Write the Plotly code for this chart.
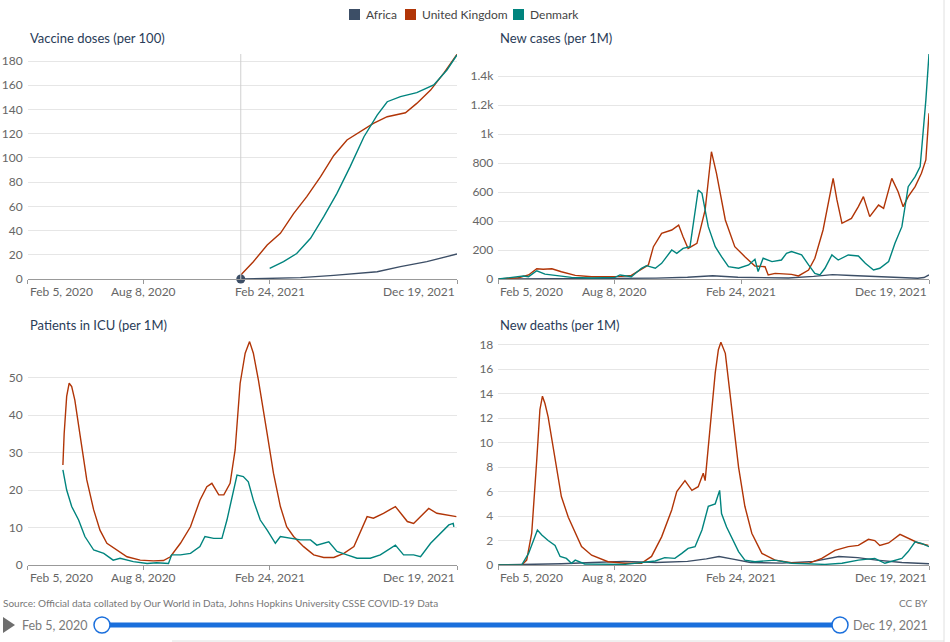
import pandas as pd
import plotly.graph_objects as go

W, H = 950, 642
START = pd.Timestamp("2020-02-05")
END = pd.Timestamp("2021-12-19")

COLORS = {"Africa": "#3c4e66", "United Kingdom": "#b13507", "Denmark": "#00847e"}
FONT = "Lato"

tick_dates = ["2020-02-05", "2020-08-08", "2021-02-24", "2021-12-19"]
tick_labels = ["Feb 5, 2020", "Aug 8, 2020", "Feb 24, 2021", "Dec 19, 2021"]

# ----------------- data (days since Feb 5, 2020) -----------------
# Vaccine doses (per 100)
vac_uk_day = [339, 359, 381, 402, 423, 444, 466, 487, 508, 529, 550, 572, 601, 619, 641, 662, 683]
vac_uk = [3.3, 14.3, 28, 37.7, 54, 68, 84.5, 102, 114.8, 121.7, 128.5, 134, 137.3, 145, 156, 170, 185.5]
vac_dk_day = [385, 407, 428, 450, 471, 492, 513, 535, 556, 572, 593, 619, 646, 667, 683]
vac_dk = [8.8, 14.3, 21, 33.6, 51.5, 70.7, 92.8, 117.5, 135.4, 146.4, 150.6, 153.9, 160.2, 172.6, 185]
vac_af_day = [339, 380, 434, 487, 556, 593, 635, 683]
vac_af = [0, 0.4, 1.1, 3, 6, 10.2, 14.3, 20.6]

# New cases (per 1M)
case_uk_day = [0, 32, 48, 61, 71, 85, 100, 122, 148, 174, 196, 211, 227, 238, 246, 259, 275, 286,
               293, 301, 315, 328, 338, 346, 360, 375, 391, 407, 423, 428, 439, 465, 476, 492,
               502, 515, 531, 537, 545, 560, 571, 579, 589, 603, 611, 624, 634, 642, 650, 661,
               671, 678, 683]
case_uk = [0, 9, 28, 71, 67, 71, 50, 25, 16, 16, 18, 25, 67, 97, 223, 315, 338, 372,
           292, 211, 246, 476, 878, 729, 407, 223, 154, 90, 85, 28, 39, 32, 21, 62,
           143, 338, 694, 545, 384, 418, 499, 568, 430, 510, 487, 694, 602, 499, 568, 637,
           729, 821, 1143]
case_dk_day = [0, 32, 40, 48, 61, 74, 95, 116, 148, 185, 193, 211, 227, 235, 249, 259, 275, 283,
               293, 304, 317, 323, 333, 344, 354, 365, 381, 397, 407, 412, 420, 434, 449, 457,
               465, 481, 492, 502, 510, 518, 529, 539, 555, 571, 582, 595, 605, 619, 629, 640,
               650, 661, 669, 674, 678, 683]
case_dk = [0, 16, 21, 16, 57, 34, 25, 11, 7, 11, 28, 16, 74, 92, 74, 108, 200, 177,
           211, 223, 614, 591, 361, 223, 154, 85, 74, 97, 136, 51, 143, 120, 131, 177,
           189, 166, 97, 39, 28, 74, 166, 131, 166, 159, 108, 62, 74, 120, 246, 361,
           637, 706, 775, 1005, 1234, 1552]
case_af_day = [0, 60, 150, 200, 250, 300, 340, 380, 420, 460, 500, 530, 560, 600, 640, 665, 675, 683]
case_af = [0, 1, 3, 5, 6, 12, 22, 12, 8, 7, 18, 30, 24, 18, 8, 5, 10, 28]

# Patients in ICU (per 1M)
icu_uk_day = [56, 58, 62, 66, 70, 75, 83, 94, 105, 115, 126, 142, 158, 179, 200, 216, 227, 243,
              259, 274, 285, 293, 304, 312, 322, 330, 338, 346, 353, 359, 367, 381, 391, 402,
              412, 423, 439, 455, 471, 487, 503, 519, 529, 540, 550, 566, 585, 593, 604, 614,
              625, 638, 651, 667, 682]
icu_uk = [26.7, 35, 45, 48.5, 47.6, 44, 35, 22.7, 14.7, 9.3, 5.8, 4, 2.2, 1.3, 1.1, 1.2, 2.2, 5.8,
          10.2, 17.3, 20.9, 21.8, 18.7, 18.7, 21.8, 30.7, 48.5, 56.5, 59.6, 56.5, 49.4, 35, 24.5, 15.6,
          10.2, 7.6, 4.9, 2.7, 2, 2, 3.1, 4.9, 8.5, 12.9, 12.5, 13.8, 15.6, 13.8, 11.6, 11.1,
          12.9, 15.1, 13.8, 13.3, 12.9]
icu_dk_day = [56, 62, 70, 81, 91, 105, 121, 136, 147, 168, 190, 205, 224, 229, 243, 259, 274, 282,
              296, 309, 317, 328, 333, 343, 351, 359, 370, 381, 394, 402, 418, 434, 450, 460,
              479, 492, 508, 524, 545, 561, 585, 598, 614, 625, 641, 657, 670, 677, 678]
icu_dk = [25.4, 20, 15.6, 12, 7.6, 4, 3.1, 1.3, 1.8, 0.9, 0.4, 0.6, 0.4, 2.7, 2.7, 3.1, 4.9, 7.6,
          7.1, 7.1, 12, 20.9, 24, 23.6, 22.2, 17.3, 12, 9.3, 5.8, 7.6, 7.1, 6.7, 6.7, 5.3,
          6.2, 3.6, 2.7, 1.8, 1.8, 2.7, 5.3, 2.7, 2.7, 2.2, 5.8, 8.5, 10.7, 11.1, 10.2]

# New deaths (per 1M)
death_uk_day = [0, 37, 45, 53, 61, 66, 70, 74, 79, 90, 100, 111, 122, 132, 148, 174, 201, 227,
                243, 259, 275, 283, 296, 307, 317, 325, 328, 336, 344, 349, 353, 360, 370, 381,
                391, 402, 418, 439, 465, 492, 513, 534, 555, 571, 587, 597, 605, 619, 637, 650,
                666, 682]
death_uk = [0, 0, 0.4, 2.6, 8.6, 12.7, 13.8, 13.2, 12.1, 8.6, 5.6, 3.9, 2.6, 1.5, 0.8, 0.27, 0.14, 0.14,
            0.7, 2.3, 4.5, 6, 6.9, 6.1, 6.4, 7.5, 6.9, 11.6, 15.7, 17.6, 18.2, 17.3, 12.9, 8,
            4.8, 2.6, 0.95, 0.4, 0.19, 0.14, 0.54, 1.2, 1.5, 1.6, 2.1, 2.0, 1.6, 1.8, 2.5, 2.2,
            1.8, 1.6]
death_dk_day = [0, 37, 48, 56, 62, 69, 79, 90, 98, 108, 116, 122, 137, 200, 249, 264, 280, 291,
                301, 312, 323, 333, 344, 351, 354, 362, 370, 381, 391, 407, 439, 465, 518, 545,
                571, 597, 613, 629, 640, 650, 661, 671, 683]
death_dk = [0, 0, 0.95, 2.0, 2.86, 2.45, 2.0, 1.6, 0.7, 0.54, 0.14, 0.4, 0.08, 0.05, 0.33, 0.6, 0.54, 0.95,
            1.36, 1.5, 2.86, 4.8, 5.0, 6.1, 4.2, 3.1, 2.2, 1.1, 0.4, 0.27, 0.4, 0.14, 0.05, 0.14,
            0.4, 0.54, 0.14, 0.4, 0.54, 1.1, 1.9, 1.77, 1.5]
death_af_day = [0, 50, 100, 150, 200, 250, 300, 330, 350, 370, 400, 450, 500, 540, 570, 600, 640, 683]
death_af = [0, 0.02, 0.1, 0.2, 0.3, 0.2, 0.3, 0.5, 0.7, 0.5, 0.2, 0.15, 0.3, 0.7, 0.6, 0.4, 0.2, 0.1]

panels = [
    {"title": "Vaccine doses (per 100)", "ymax": 185.8, "tickvals": list(range(0, 181, 20)),
     "ticktext": [str(v) for v in range(0, 181, 20)],
     "series": [("Africa", vac_af_day, vac_af), ("United Kingdom", vac_uk_day, vac_uk),
                ("Denmark", vac_dk_day, vac_dk)]},
    {"title": "New cases (per 1M)", "ymax": 1552, "tickvals": list(range(0, 1401, 200)),
     "ticktext": ["0", "200", "400", "600", "800", "1k", "1.2k", "1.4k"],
     "series": [("Africa", case_af_day, case_af), ("United Kingdom", case_uk_day, case_uk),
                ("Denmark", case_dk_day, case_dk)]},
    {"title": "Patients in ICU (per 1M)", "ymax": 59.9, "tickvals": list(range(0, 51, 10)),
     "ticktext": [str(v) for v in range(0, 51, 10)],
     "series": [("United Kingdom", icu_uk_day, icu_uk), ("Denmark", icu_dk_day, icu_dk)]},
    {"title": "New deaths (per 1M)", "ymax": 18.35, "tickvals": list(range(0, 19, 2)),
     "ticktext": [str(v) for v in range(0, 19, 2)],
     "series": [("Africa", death_af_day, death_af), ("United Kingdom", death_uk_day, death_uk),
                ("Denmark", death_dk_day, death_dk)]},
]


def px(x):
    return x / W


def py(y):
    return 1 - y / H


def to_dates(days):
    return START + pd.to_timedelta(days, unit="D")


# pixel boxes of the four plot areas: (left, right, top, bottom)
boxes = [(27.7, 457, 54, 279), (498.3, 929, 54, 279), (27.7, 457, 340.5, 565), (498.3, 929, 340.5, 565)]

fig = go.Figure()
annotations = []
shapes = []
layout_axes = {}

for i, (panel, box) in enumerate(zip(panels, boxes), start=1):
    xa = "x" if i == 1 else f"x{i}"
    ya = "y" if i == 1 else f"y{i}"
    for name, days, vals in panel["series"]:
        fig.add_trace(go.Scatter(
            x=to_dates(days), y=vals, mode="lines", name=name, showlegend=False,
            line=dict(color=COLORS[name], width=1.4), xaxis=xa, yaxis=ya, hoverinfo="skip",
        ))
    l, r, t, b = box
    layout_axes["xaxis" if i == 1 else f"xaxis{i}"] = dict(
        domain=[px(l), px(r)], anchor=ya, range=[START, END], showgrid=False,
        tickvals=tick_dates, showticklabels=False, ticks="outside", ticklen=4,
        tickcolor="#999", showline=True, linecolor="#999", linewidth=1, zeroline=False,
        automargin=False,
    )
    layout_axes["yaxis" if i == 1 else f"yaxis{i}"] = dict(
        domain=[py(b), py(t)], anchor=xa, range=[0, panel["ymax"]],
        tickvals=panel["tickvals"], ticktext=panel["ticktext"],
        showgrid=True, gridcolor="#e6e6e6", gridwidth=1, zeroline=False, showline=False,
        tickfont=dict(family=FONT, size=12, color="#666"), ticklabelstandoff=4,
        automargin=False,
    )
    # panel title
    annotations.append(dict(
        text=panel["title"], xref="paper", yref="paper", x=px(l), y=py(t - 16),
        xanchor="left", yanchor="middle", showarrow=False,
        font=dict(family=FONT, size=13, color="#2a3c58"),
    ))
    # x tick labels: first left aligned, last right aligned
    for j, (d, lab) in enumerate(zip(tick_dates, tick_labels)):
        anchor = "left" if j == 0 else ("right" if j == len(tick_dates) - 1 else "center")
        annotations.append(dict(
            text=lab, xref=xa, yref=f"{ya} domain", x=d, y=0, xanchor=anchor, yanchor="top",
            yshift=-3, showarrow=False, font=dict(family=FONT, size=12, color="#666"),
        ))

# legend: square swatches + labels
legend_x = {"Africa": 349, "United Kingdom": 405, "Denmark": 513}
for name, x0 in legend_x.items():
    shapes.append(dict(type="rect", xref="paper", yref="paper", x0=px(x0), x1=px(x0 + 11),
                       y0=py(20), y1=py(9), fillcolor=COLORS[name], line=dict(width=0)))
    annotations.append(dict(text=name, xref="paper", yref="paper", x=px(x0 + 15), y=py(14.5),
                            xanchor="left", yanchor="middle", showarrow=False,
                            font=dict(family=FONT, size=12, color="#444")))

# hover marker on the vaccine panel
fig.add_trace(go.Scatter(
    x=to_dates(vac_af_day[:1]), y=vac_af[:1], mode="markers", showlegend=False,
    marker=dict(color=COLORS["Africa"], size=9), xaxis="x", yaxis="y", hoverinfo="skip",
    cliponaxis=False,
))

shapes += [
    dict(type="line", xref="x", yref="y domain", x0=to_dates(vac_af_day[:1])[0],
         x1=to_dates(vac_af_day[:1])[0], y0=0, y1=1, line=dict(color="#d0d0d0", width=1)),
    # timeline
    dict(type="path", xref="paper", yref="paper",
         path=f"M {px(3)} {py(617)} L {px(15)} {py(625)} L {px(3)} {py(633)} Z",
         fillcolor="#6e6e6e", line=dict(width=0)),
    dict(type="rect", xref="paper", yref="paper", x0=px(102), x1=px(840), y0=py(627.5), y1=py(622.5),
         fillcolor="#1a6fdc", line=dict(width=0)),
    dict(type="circle", xref="paper", yref="paper", x0=px(94), x1=px(110), y0=py(633), y1=py(617),
         fillcolor="white", line=dict(color="#1a6fdc", width=1.5)),
    dict(type="circle", xref="paper", yref="paper", x0=px(832), x1=px(848), y0=py(633), y1=py(617),
         fillcolor="white", line=dict(color="#1a6fdc", width=1.5)),
    # page borders
    dict(type="line", xref="paper", yref="paper", x0=px(944), x1=px(944), y0=0, y1=1,
         line=dict(color="#e0e0e0", width=1)),
    dict(type="line", xref="paper", yref="paper", x0=px(172), x1=px(944), y0=py(641), y1=py(641),
         line=dict(color="#e0e0e0", width=1)),
]

annotations += [
    dict(text="Source: Official data collated by Our World in Data, Johns Hopkins University CSSE COVID-19 Data",
         xref="paper", yref="paper", x=px(1), y=py(603), xanchor="left", yanchor="middle",
         showarrow=False, font=dict(family=FONT, size=10, color="#777")),
    dict(text="CC BY", xref="paper", yref="paper", x=px(930), y=py(603), xanchor="right",
         yanchor="middle", showarrow=False, font=dict(family=FONT, size=10, color="#777")),
    dict(text="Feb 5, 2020", xref="paper", yref="paper", x=px(20), y=py(625), xanchor="left",
         yanchor="middle", showarrow=False, font=dict(family=FONT, size=12.5, color="#7a7a7a")),
    dict(text="Dec 19, 2021", xref="paper", yref="paper", x=px(930), y=py(625), xanchor="right",
         yanchor="middle", showarrow=False, font=dict(family=FONT, size=12.5, color="#7a7a7a")),
]

fig.update_layout(
    width=W, height=H, margin=dict(l=0, r=0, t=0, b=0, autoexpand=False),
    paper_bgcolor="white", plot_bgcolor="white",
    font=dict(family=FONT, color="#555"), showlegend=False,
    hovermode=False, annotations=annotations, shapes=shapes,
    **layout_axes,
)

fig.write_html("out.html", config={"displayModeBar": False},
               post_script="document.body.style.margin = '0';")
